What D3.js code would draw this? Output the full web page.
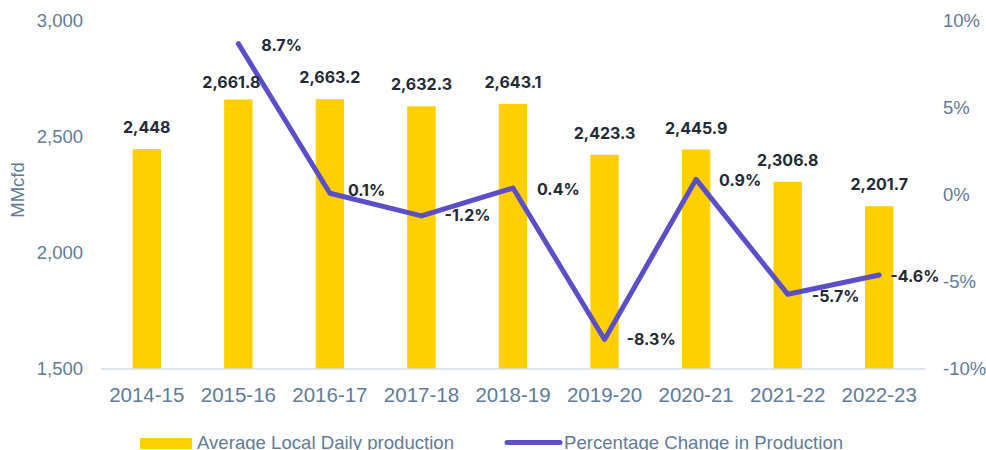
<!DOCTYPE html>
<html><head><meta charset="utf-8">
<script src="https://cdn.jsdelivr.net/npm/d3@7/dist/d3.min.js"></script>
<style>
html,body{margin:0;padding:0;background:#fff;}
svg{display:block;}
</style></head>
<body>
<svg id="chart" width="986" height="450"></svg>
<script>
const categories = ["2014-15","2015-16","2016-17","2017-18","2018-19","2019-20","2020-21","2021-22","2022-23"];
const production = [2448, 2661.8, 2663.2, 2632.3, 2643.1, 2423.3, 2445.9, 2306.8, 2201.7];
const productionLabels = ["2,448","2,661.8","2,663.2","2,632.3","2,643.1","2,423.3","2,445.9","2,306.8","2,201.7"];
const pctChange = [null, 8.7, 0.1, -1.2, 0.4, -8.3, 0.9, -5.7, -4.6];
const pctLabels = [null, "8.7%","0.1%","-1.2%","0.4%","-8.3%","0.9%","-5.7%","-4.6%"];
const leftTicks = [1500, 2000, 2500, 3000];
const rightTicks = [-10, -5, 0, 5, 10];
const seriesNames = ["Average Local Daily production", "Percentage Change in Production"];

// label placement tweaks (layout only)
const barLabelShift = [[0,0],[-7,5],[0,0],[0,0],[0,0],[0,0],[0,0],[0,0],[0,0]];
const pctLabelShift = [null,[23,7],[18,2.5],[23,5],[24,7],[22,6],[23,7],[24,7.5],[11,6.5]];

const svg = d3.select("#chart");
const axisColor = "#5f7b98";
const axisFont = "Liberation Sans, Arial, sans-serif";
const x = d3.scaleBand().domain(categories).range([101, 925]).padding(0);
const yL = d3.scaleLinear().domain([1500, 3000]).range([369, 21]);
const yR = d3.scaleLinear().domain([-10, 10]).range([369, 21]);
const barW = x.bandwidth() * 0.31;
const cx = c => x(c) + x.bandwidth() / 2;

// bars
svg.append("g").selectAll("rect").data(categories).join("rect")
  .attr("x", (c) => cx(c) - barW / 2)
  .attr("y", (c, i) => yL(production[i]))
  .attr("width", barW)
  .attr("height", (c, i) => yL(1500) - yL(production[i]))
  .attr("fill", "#FFCF00");

// baseline
svg.append("line").attr("x1", 101).attr("x2", 925).attr("y1", yL(1500)).attr("y2", yL(1500))
  .attr("stroke", "#d6dee8").attr("stroke-width", 1.5);

// left axis
const gL = svg.append("g").attr("transform", "translate(83,0)")
  .call(d3.axisLeft(yL).tickValues(leftTicks).tickSize(0).tickPadding(0).tickFormat(d3.format(",")));
gL.select(".domain").remove();
gL.selectAll("text").attr("font-family", axisFont).attr("font-size", 18.5).attr("fill", axisColor);

// right axis
const gR = svg.append("g").attr("transform", "translate(943,0)")
  .call(d3.axisRight(yR).tickValues(rightTicks).tickSize(0).tickPadding(0).tickFormat(d => d + "%"));
gR.select(".domain").remove();
gR.selectAll("text").attr("font-family", axisFont).attr("font-size", 18.5).attr("fill", axisColor);

// bottom axis
const gB = svg.append("g").attr("transform", "translate(0,387)")
  .call(d3.axisBottom(x).tickSize(0).tickPadding(0));
gB.select(".domain").remove();
gB.selectAll("text").attr("font-family", axisFont).attr("font-size", 20.5).attr("fill", axisColor);

// y title
svg.append("text").attr("transform", "translate(24,190) rotate(-90)")
  .attr("text-anchor", "middle").attr("font-family", axisFont)
  .attr("font-size", 18.5).attr("fill", axisColor).text("MMcfd");

// line
const lineData = categories.map((c, i) => ({c, v: pctChange[i], i})).filter(d => d.v !== null);
svg.append("path").datum(lineData)
  .attr("d", d3.line().x(d => cx(d.c)).y(d => yR(d.v)))
  .attr("fill", "none").attr("stroke", "#5a4fc6").attr("stroke-width", 5)
  .attr("stroke-linejoin", "round").attr("stroke-linecap", "round");

// bar labels
svg.append("g").selectAll("text").data(categories).join("text")
  .attr("x", (c, i) => cx(c) + barLabelShift[i][0])
  .attr("y", (c, i) => yL(production[i]) - 16 + barLabelShift[i][1])
  .attr("text-anchor", "middle")
  .attr("font-family", "Inter, sans-serif").attr("font-weight", 700).attr("font-size", 16)
  .attr("fill", "#222a35").text((c, i) => productionLabels[i]);

// pct labels
svg.append("g").selectAll("text").data(lineData).join("text")
  .attr("x", d => cx(d.c) + pctLabelShift[d.i][0])
  .attr("y", d => yR(d.v) + pctLabelShift[d.i][1])
  .attr("font-family", "Inter, sans-serif").attr("font-weight", 700).attr("font-size", 16)
  .attr("fill", "#222a35").text(d => pctLabels[d.i]);

// legend
const lg = svg.append("g");
lg.append("rect").attr("x", 140).attr("y", 438).attr("width", 52).attr("height", 11).attr("fill", "#FFCF00");
lg.append("text").attr("x", 197).attr("y", 448.5).attr("font-family", axisFont)
  .attr("font-size", 18.6).attr("fill", axisColor).text(seriesNames[0]);
lg.append("line").attr("x1", 507).attr("x2", 560).attr("y1", 442.5).attr("y2", 442.5)
  .attr("stroke", "#5a4fc6").attr("stroke-width", 5).attr("stroke-linecap", "round");
lg.append("text").attr("x", 564).attr("y", 448.5).attr("font-family", axisFont)
  .attr("font-size", 18.6).attr("fill", axisColor).text(seriesNames[1]);
</script>
</body></html>
